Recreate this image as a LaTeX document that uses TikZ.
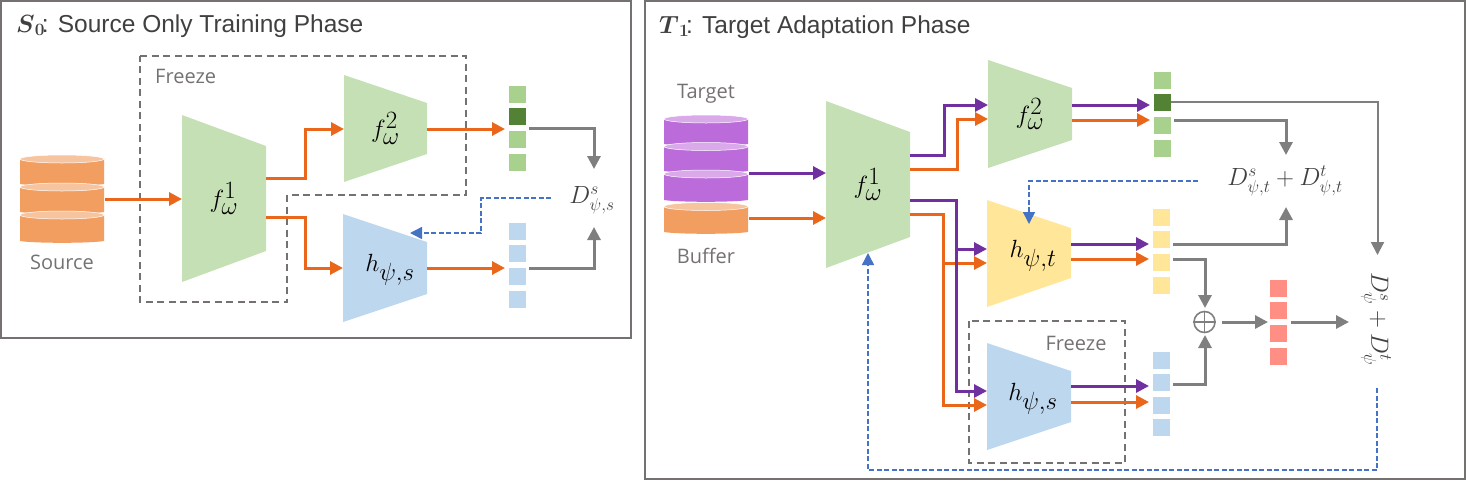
\documentclass[tikz,border=0pt]{standalone}
\usepackage{amsmath}
\usepackage[no-math]{fontspec}
\setmainfont{Liberation Sans}
\newfontfamily\labelfont{Open Sans}
\usetikzlibrary{arrows.meta}
\DeclareMathSizes{31}{31}{23}{17}
\DeclareMathSizes{24}{24}{18}{13}
\DeclareMathSizes{24.5}{24.5}{18}{13}
\definecolor{cOrange}{HTML}{E9661A}
\definecolor{cPurple}{HTML}{7030A0}
\definecolor{cGray}{HTML}{7F7F7F}
\definecolor{cBlue}{HTML}{4472C4}
\definecolor{cFrame}{HTML}{767171}
\definecolor{cTitle}{HTML}{404040}
\definecolor{cTrapG}{HTML}{C5E0B4}
\definecolor{cTrapB}{HTML}{BDD7EE}
\definecolor{cTrapY}{HTML}{FFE699}
\definecolor{cSqG}{HTML}{A9D18E}
\definecolor{cSqD}{HTML}{548235}
\definecolor{cSqR}{HTML}{FF8F85}
\definecolor{cCylO}{HTML}{F29E61}
\definecolor{cCylOl}{HTML}{F7C4A0}
\definecolor{cCylP}{HTML}{BC6CDA}
\definecolor{cCylPl}{HTML}{D9A9EA}
\tikzset{
  x=1pt,y=-1pt,
  frame/.style={draw=cFrame,line width=2pt},
  freeze/.style={draw=cFrame,line width=1.4pt,dash pattern=on 7pt off 4.5pt},
  flow/.style={line width=3pt,-{Triangle[length=13pt,width=13pt]},miter limit=10},
  orangeflow/.style={flow,draw=cOrange,color=cOrange},
  purpleflow/.style={flow,draw=cPurple,color=cPurple},
  grayflow/.style={flow,draw=cGray,color=cGray},
  thingray/.style={line width=2pt,draw=cGray,color=cGray,-{Triangle[length=13pt,width=13pt]}},
  feedback/.style={line width=1.5pt,draw=cBlue,color=cBlue,dash pattern=on 5pt off 2.5pt,-{Triangle[length=12pt,width=12pt]}},
  sq/.style={inner sep=0pt,minimum width=17pt,minimum height=17pt,outer sep=0pt},
  mathlabel/.style={inner sep=0pt,text=black,font=\fontsize{31}{34}\selectfont},
  losslabel/.style={inner sep=0pt,text=cTitle,font=\fontsize{24}{28}\selectfont},
  caption/.style={inner sep=0pt,text=cFrame,font=\labelfont\fontsize{20}{24}\selectfont},
  titletext/.style={inner sep=0pt,anchor=base west,text=cTitle,font=\fontsize{24.5}{29}\selectfont},
}
\newcommand{\lx}{0}
\newcommand{\ly}{0}
% name, x1, x2, yTL, yBL, yTR, yBR, colour, label
\newcommand{\trap}[9]{%
  \fill[#8] (#2,#4) -- (#3,#6) -- (#3,#7) -- (#2,#5) -- cycle;
  \node[mathlabel] (#1) at ({(#2+#3)/2+\lx},{(#4+#5)/2+\ly}) {$#9$};
}
% x1, x2, top, bottom, colour, light
\newcommand{\cylpart}[6]{%
  \fill[#5] (#1,#3) -- (#1,#4)
    .. controls ({#1+14},{#4+2.4}) and ({#2-14},{#4+2.4}) .. (#2,#4) -- (#2,#3) -- cycle;
  \fill[#6,draw=white,line width=0.5pt] ({(#1+#2)/2},#3) ellipse [x radius={(#2-#1)/2},y radius=4];
}
\begin{document}
\begin{tikzpicture}
\useasboundingbox (0,0) rectangle (1466,480);
% frames
\draw[frame] (1,1) rectangle (631,338);
\draw[frame] (645,1) rectangle (1465,478.5);
\node[titletext] (titleS) at (16,32) {$\boldsymbol{S}_{\boldsymbol{0}}$\kern-3pt: Source Only Training Phase};
\node[titletext] (titleT) at (659,33) {$\boldsymbol{T}_{\boldsymbol{1}}$\kern-3pt: Target Adaptation Phase};

% ---------- left panel
\draw[freeze] (140,56) -- (466,56) -- (466,195) -- (287,195) -- (287,302) -- (140,302) -- cycle;
\node[caption,anchor=west] (freezeL) at (155,76) {Freeze};
\cylpart{20}{104}{159}{184}{cCylO}{cCylOl}
\cylpart{20}{104}{187}{212}{cCylO}{cCylOl}
\cylpart{20}{104}{215}{241}{cCylO}{cCylOl}
\node[caption] (source) at (62,262) {Source};
\trap{Lfa}{182}{266}{115}{282}{146}{251}{cTrapG}{f_\omega^1}
\trap{Lfb}{344}{427}{75}{182}{103}{154}{cTrapG}{f_\omega^2}
\renewcommand{\lx}{5}\renewcommand{\ly}{2}
\trap{Lh}{343}{427}{214}{322}{242}{294}{cTrapB}{h_{\psi,s}}
\renewcommand{\lx}{0}\renewcommand{\ly}{0}
\node[sq,fill=cSqG] (Lg1) at (517.5,94.5) {};
\node[sq,fill=cSqD] (Lg2) at (517.5,116.5) {};
\node[sq,fill=cSqG] (Lg3) at (517.5,139.5) {};
\node[sq,fill=cSqG] (Lg4) at (517.5,162) {};
\node[sq,fill=cTrapB] (Lb1) at (517.5,231.5) {};
\node[sq,fill=cTrapB] (Lb2) at (517.5,253.5) {};
\node[sq,fill=cTrapB] (Lb3) at (517.5,276.5) {};
\node[sq,fill=cTrapB] (Lb4) at (517.5,299.5) {};
\node[losslabel] (Ld) at (592,200) {$D_{\psi,s}^{s}$};
\coordinate (Lsrc) at (105,199);
\coordinate (Lin) at (182,199);
\coordinate (Lfaup) at (266,178);
\coordinate (Lfadn) at (266,217);
\coordinate (Lfbin) at (344,129);
\coordinate (Lhin) at (343,268);
\coordinate (Lfbout) at (427,129);
\coordinate (Lhout) at (427,268);
\coordinate (Lgin) at (505,129);
\coordinate (Lbin) at (505,268);
\coordinate (Lgout) at (529,128);
\coordinate (Lbout) at (529,268);
\coordinate (Ldup) at (594,169);
\coordinate (Lddn) at (594,227);
\coordinate (Lfbs) at (551,198);
\coordinate (Lfbe) at (410,233);
\draw[orangeflow] (Lsrc) -- (Lin);
\draw[orangeflow] (Lfaup) -- (305,178) -- (305,129) -- (Lfbin);
\draw[orangeflow] (Lfadn) -- (305,217) -- (305,268) -- (Lhin);
\draw[orangeflow] (Lfbout) -- (Lgin);
\draw[orangeflow] (Lhout) -- (Lbin);
\draw[grayflow] (Lgout) -| (Ldup);
\draw[grayflow] (Lbout) -| (Lddn);
\draw[feedback] (Lfbs) -- (481,198) -- (481,233) -- (Lfbe);

% ---------- right panel
\node[caption] (target) at (706,94) {Target};
\cylpart{664}{748}{119}{144}{cCylP}{cCylPl}
\cylpart{664}{748}{146.5}{171}{cCylP}{cCylPl}
\cylpart{664}{748}{174}{200}{cCylP}{cCylPl}
\cylpart{664}{748}{206.5}{232}{cCylO}{cCylOl}
\node[caption] (buffer) at (706,256) {Buffer};
\trap{Rfa}{826}{910}{101}{268}{132}{237}{cTrapG}{f_\omega^1}
\trap{Rfb}{988}{1072}{60}{168}{88}{140}{cTrapG}{f_\omega^2}
\renewcommand{\lx}{4}\renewcommand{\ly}{2}
\trap{Rht}{987}{1071}{200}{307}{228}{278}{cTrapY}{h_{\psi,t}}
\trap{Rhs}{987}{1071}{343}{450}{371}{422}{cTrapB}{h_{\psi,s}}
\renewcommand{\lx}{0}\renewcommand{\ly}{0}
\draw[freeze] (969,321) rectangle (1125,463);
\node[caption] (freezeR) at (1076,343) {Freeze};
\node[sq,fill=cSqG] (Rg1) at (1162.5,80.5) {};
\node[sq,fill=cSqD] (Rg2) at (1162.5,102.5) {};
\node[sq,fill=cSqG] (Rg3) at (1162.5,125.5) {};
\node[sq,fill=cSqG] (Rg4) at (1162.5,148) {};
\node[sq,fill=cTrapY] (Ry1) at (1161.5,217) {};
\node[sq,fill=cTrapY] (Ry2) at (1161.5,239) {};
\node[sq,fill=cTrapY] (Ry3) at (1161.5,262) {};
\node[sq,fill=cTrapY] (Ry4) at (1161.5,285) {};
\node[sq,fill=cTrapB] (Rb1) at (1161.5,360) {};
\node[sq,fill=cTrapB] (Rb2) at (1161.5,382) {};
\node[sq,fill=cTrapB] (Rb3) at (1161.5,405) {};
\node[sq,fill=cTrapB] (Rb4) at (1161.5,427.5) {};
\node[sq,fill=cSqR] (Rr1) at (1278,288) {};
\node[sq,fill=cSqR] (Rr2) at (1278,310) {};
\node[sq,fill=cSqR] (Rr3) at (1278,333) {};
\node[sq,fill=cSqR] (Rr4) at (1278,356) {};
\node[losslabel] (Rdt) at (1285,181) {$D_{\psi,t}^{s}+D_{\psi,t}^{t}$};
\node[losslabel,rotate=-90] (Rd) at (1376,319) {$D_{\psi}^{s}+D_{\psi}^{t}$};
\node[draw=cGray,line width=1.6pt,circle,minimum size=21pt,inner sep=0pt] (Rsum) at (1204.5,322) {};
\draw[cGray,line width=1.2pt] (Rsum.north) -- (Rsum.south) (Rsum.west) -- (Rsum.east);

\coordinate (Rtg) at (749,173);
\coordinate (Rtgin) at (826,173);
\coordinate (Rbf) at (749,218);
\coordinate (Rbfin) at (826,218);
\coordinate (RfaP1) at (910,155);
\coordinate (RfaO1) at (910,169);
\coordinate (RfaP2) at (910,200);
\coordinate (RfaO2) at (910,214);
\coordinate (RfbP) at (988,105);
\coordinate (RfbO) at (988,119);
\coordinate (RhtP) at (987,249);
\coordinate (RhtO) at (987,263);
\coordinate (RhsP) at (987,391);
\coordinate (RhsO) at (987,405);
\draw[purpleflow] (Rtg) -- (Rtgin);
\draw[orangeflow] (Rbf) -- (Rbfin);
% upper branch
\draw[orangeflow] (RfaO1) -- (957,169) -- (957,119) -- (RfbO);
\draw[purpleflow] (RfaP1) -- (944,155) -- (944,105) -- (RfbP);
% lower branches
\draw[orangeflow] (RfaO2) -- (943,214) -- (943,405) -- (RhsO);
\draw[orangeflow] (943,263) -- (RhtO);
\draw[purpleflow] (RfaP2) -- (956,200) -- (956,391) -- (RhsP);
\draw[purpleflow] (956,249) -- (RhtP);
% outputs
\coordinate (RfbPo) at (1072,105);
\coordinate (RfbOo) at (1072,120);
\coordinate (RgP) at (1150,105);
\coordinate (RgO) at (1150,120);
\coordinate (RhtPo) at (1071,244);
\coordinate (RhtOo) at (1071,259);
\coordinate (RyP) at (1149,244);
\coordinate (RyO) at (1149,259);
\coordinate (RhsPo) at (1071,386);
\coordinate (RhsOo) at (1071,402);
\coordinate (RbP) at (1149,386);
\coordinate (RbO) at (1149,402);
\draw[purpleflow] (RfbPo) -- (RgP);
\draw[orangeflow] (RfbOo) -- (RgO);
\draw[purpleflow] (RhtPo) -- (RyP);
\draw[orangeflow] (RhtOo) -- (RyO);
\draw[purpleflow] (RhsPo) -- (RbP);
\draw[orangeflow] (RhsOo) -- (RbO);
% gray connectors
\coordinate (Rg2o) at (1171,102);
\coordinate (Rdtop) at (1377.5,255);
\coordinate (Rg3o) at (1174,120);
\coordinate (Rdt1) at (1286,155);
\coordinate (Ry2o) at (1173,244);
\coordinate (Rdt2) at (1286,207);
\coordinate (Ry3o) at (1173,259);
\coordinate (Rsumt) at (1205,308);
\coordinate (Rb2o) at (1173,384);
\coordinate (Rsumb) at (1205,335);
\coordinate (Rsume) at (1222,322);
\coordinate (Rrin) at (1268,322);
\coordinate (Rro) at (1291,322);
\coordinate (Rdin) at (1349,322);
\draw[thingray] (Rg2o) -| (Rdtop);
\draw[grayflow] (Rg3o) -| (Rdt1);
\draw[grayflow] (Ry2o) -| (Rdt2);
\draw[grayflow] (Ry3o) -| (Rsumt);
\draw[grayflow] (Rb2o) -| (Rsumb);
\draw[grayflow] (Rsume) -- (Rrin);
\draw[grayflow] (Rro) -- (Rdin);
% feedback
\coordinate (Rf1s) at (1198,181);
\coordinate (Rf1e) at (1029,224);
\coordinate (Rf2s) at (1377,388);
\coordinate (Rf2e) at (868,253);
\draw[feedback] (Rf1s) -| (Rf1e);
\draw[feedback] (Rf2s) -- (1377,470) -- (868,470) -- (Rf2e);
\end{tikzpicture}
\end{document}
